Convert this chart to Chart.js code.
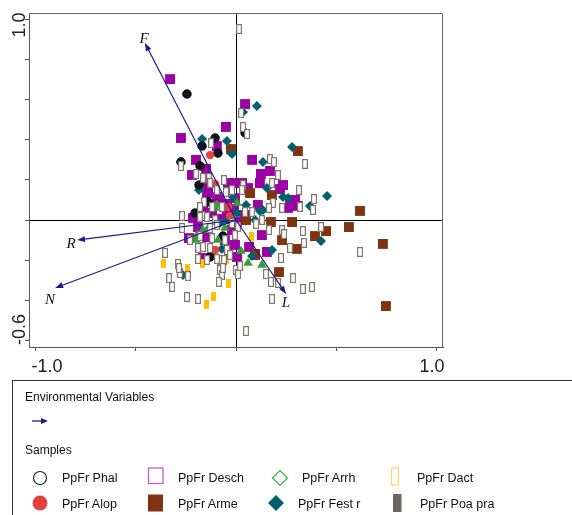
<!DOCTYPE html>
<html>
<head>
<meta charset="utf-8">
<script src="https://cdn.jsdelivr.net/npm/chart.js@4.4.0/dist/chart.umd.min.js"></script>
<style>
  html, body { margin: 0; padding: 0; background: #fff; }
  #wrap { position: relative; width: 572px; height: 515px; overflow: hidden; }
  #wrap canvas, #wrap svg { position: absolute; left: 0; top: 0; }
  svg text { font-family: "Liberation Sans", Arial, sans-serif; fill: #111; }
</style>
</head>
<body>
<div id="wrap">
  <canvas id="biplot" width="572" height="515"></canvas>
  <svg id="legend" width="572" height="515">
    <rect x="12.5" y="380.5" width="600" height="200" fill="none" stroke="#333" stroke-width="1"/>
    <text x="25" y="401" font-size="12">Environmental Variables</text>
    <line x1="32" y1="421" x2="43" y2="421" stroke="#1c1c8c" stroke-width="1.3"/>
    <polygon points="48,421 41,418 41,424" fill="#1c1c8c"/>
    <text x="25" y="454" font-size="12">Samples</text>

    <circle cx="40" cy="478" r="6.5" fill="#fff" stroke="#222" stroke-width="1.2"/>
    <text x="62" y="482" font-size="12.5">PpFr Phal</text>
    <rect x="148.5" y="468" width="14.5" height="15.5" fill="none" stroke="#c060d0" stroke-width="1.3"/>
    <text x="178" y="482" font-size="12.5">PpFr Desch</text>
    <polygon points="272.5,478 280,470.5 287.5,478 280,485.5" fill="none" stroke="#3cb043" stroke-width="1.2"/>
    <text x="302" y="482" font-size="12.5">PpFr Arrh</text>
    <rect x="391.5" y="468" width="7" height="17" fill="none" stroke="#ffd36a" stroke-width="1.2"/>
    <text x="417" y="482" font-size="12.5">PpFr Dact</text>

    <circle cx="40" cy="503" r="7.5" fill="#e04040"/>
    <text x="62" y="508" font-size="12.5">PpFr Alop</text>
    <rect x="148" y="494.5" width="15" height="17" fill="#7f3311"/>
    <text x="178" y="508" font-size="12.5">PpFr Arme</text>
    <polygon points="268,503 276,495 284,503 276,511" fill="#00606e"/>
    <text x="298" y="508" font-size="12.5">PpFr Fest r</text>
    <rect x="393" y="494" width="8.5" height="18" fill="#6e655e"/>
    <text x="420" y="508" font-size="12.5">PpFr Poa pra</text>
  </svg>
</div>
<script>
// Axis ticks
const xTicks = [-1.0, -0.5, 0, 0.5, 1.0];
const yTicks = [-0.6, -0.4, -0.2, 0, 0.2, 0.4, 0.6, 0.8, 1.0];
const xLabelValues = [-1.0, 1.0];
const yLabelValues = [1.0, -0.6];

// Environmental variable arrows (biplot scores)
const envNames = ['F', 'R', 'N', 'L'];
const envX = [-0.453, -0.791, -0.900, 0.249];
const envY = [0.881, -0.100, -0.338, -0.368];

// Sample scores per group [axis1, axis2]
const phal = [[-0.244,0.627],[0.045,0.433],[-0.104,0.408],[-0.169,0.368],[-0.090,0.333],[-0.274,0.289],
  [-0.179,0.269],[-0.184,0.174],[-0.139,0.090],[-0.204,0.035],[-0.129,-0.184],[-0.065,-0.080]];

const alop = [[-0.129,0.323],[-0.104,0.179],[-0.040,0.065],[-0.104,-0.149],[-0.030,0.020]];

const desch = [[-0.328,0.701],[0.045,0.577],[-0.050,0.463],[-0.274,0.408],[-0.095,0.368],[-0.199,0.299],
  [-0.149,0.254],[-0.219,0.224],[0.080,0.299],[0.124,0.229],[0.169,0.244],[0.119,0.184],[0.234,0.174],
  [0.219,0.154],[-0.139,0.159],[-0.040,0.184],[-0.005,0.184],[-0.144,0.134],[-0.095,0.114],[-0.005,0.109],
  [-0.085,0.100],[-0.045,0.080],[-0.164,0.065],[-0.045,0.050],[-0.010,0.055],[-0.214,0.010],[0.005,-0.010],
  [-0.189,-0.035],[-0.020,-0.050],[-0.234,-0.090],[-0.144,-0.085],[-0.005,-0.124],[-0.164,-0.189],
  [0.005,-0.184],[0.154,-0.159],[0.095,-0.174],[0.129,-0.075],[0.065,-0.134],[0.269,0.090],[0.294,0.100],
  [0.308,0.070],[0.259,0.060],[0.030,0.184],[-0.119,0.035],[-0.070,0.005],[0.040,0.025],[-0.055,-0.100],
  [0.060,0.159],[0.109,0.075]];

const arme = [[-0.025,0.353],[0.308,0.343],[0.070,0.134],[0.179,0.124],[0.617,0.045],[0.279,-0.010],
  [0.174,-0.010],[0.562,-0.035],[0.448,-0.055],[0.393,-0.080],[0.731,-0.119],[0.303,-0.144],[0.229,-0.100],
  [0.746,-0.428],[0.214,-0.259],[0.095,-0.169],[0.050,0.000]];

const fest = [[0.104,0.567],[0.035,0.537],[-0.169,0.403],[-0.045,0.393],[-0.020,0.328],[0.134,0.289],
  [0.279,0.363],[-0.184,0.149],[0.154,0.159],[0.234,0.114],[0.259,0.109],[0.453,0.119],[0.368,0.070],
  [0.423,-0.104],[0.179,-0.149],[0.080,-0.179],[-0.264,-0.274],[0.119,0.045],[0.095,0.000],[-0.080,-0.015],
  [-0.040,0.000],[-0.015,0.114],[-0.070,-0.144],[0.050,0.075],[0.005,0.035],[0.134,0.050]];

const arrh = [[0.005,0.085],[-0.095,0.075],[-0.104,0.060],[-0.164,-0.050],[-0.055,-0.040],[-0.199,-0.100],
  [-0.090,-0.100],[-0.194,-0.075],[0.060,-0.214],[0.129,-0.224],[0.025,-0.154],[-0.139,-0.040]];

const dact = [[-0.363,-0.214],[-0.239,-0.239],[-0.169,-0.214],[-0.045,-0.194],[-0.035,-0.318],
  [-0.114,-0.383],[-0.149,-0.418],[0.005,-0.030],[0.075,-0.080]];

const poa = [[0.015,0.950],[0.025,0.532],[0.035,0.463],[0.055,0.428],[-0.124,0.383],[-0.274,0.269],
  [-0.199,0.229],[-0.164,0.209],[-0.134,0.209],[-0.060,0.199],[0.169,0.303],[0.189,0.289],[0.209,0.224],
  [0.343,0.279],[0.179,0.184],[0.313,0.149],[0.388,0.104],[0.383,0.050],[0.318,0.065],[0.035,0.174],
  [0.030,0.149],[0.184,0.085],[-0.095,0.149],[-0.050,0.139],[-0.020,0.149],[-0.129,0.184],[-0.159,0.090],
  [-0.119,0.065],[-0.070,0.065],[-0.179,0.065],[-0.269,0.020],[-0.179,0.015],[-0.144,0.015],[-0.104,0.000],
  [-0.020,-0.015],[-0.269,-0.040],[-0.129,-0.040],[-0.095,-0.025],[0.010,-0.035],[-0.229,-0.100],
  [-0.179,-0.080],[-0.119,-0.090],[-0.055,-0.100],[-0.005,-0.075],[-0.189,-0.139],[-0.164,-0.134],
  [-0.129,-0.139],[-0.045,-0.149],[-0.144,-0.199],[-0.080,-0.199],[-0.030,-0.174],[-0.279,-0.264],
  [0.164,0.060],[0.229,0.060],[0.164,-0.050],[0.229,-0.050],[0.239,-0.070],[0.333,-0.055],[0.423,-0.035],
  [0.338,-0.114],[0.269,-0.139],[0.224,-0.189],[0.149,-0.269],[0.617,-0.159],[0.284,-0.289],[0.333,-0.343],
  [0.378,-0.333],[0.174,-0.308],[0.209,-0.313],[0.179,-0.393],[0.050,-0.552],[-0.353,-0.164],[-0.289,-0.219],
  [-0.284,-0.239],[-0.239,-0.279],[-0.333,-0.289],[-0.318,-0.333],[-0.244,-0.383],[-0.189,-0.393],
  [-0.080,-0.249],[-0.070,-0.274],[-0.085,-0.308],[-0.060,-0.199],[0.000,-0.249],[0.010,-0.269],
  [0.020,-0.229],[-0.095,-0.194],[-0.189,-0.194],[-0.065,-0.239],[0.045,0.040],[0.080,0.040],[0.100,-0.020],
  [0.129,0.000]];

const toPoints = arr => arr.map(p => ({ x: p[0], y: p[1] }));

// small bitmap marks for the narrow rectangles
function barMark(w, h, fill, stroke) {
  const c = document.createElement('canvas');
  c.width = w; c.height = h;
  const g = c.getContext('2d');
  g.fillStyle = fill;
  g.fillRect(0, 0, w, h);
  if (stroke) {
    g.strokeStyle = stroke;
    g.lineWidth = 1.2;
    g.strokeRect(0.6, 0.6, w - 1.2, h - 1.2);
  }
  return c;
}
const poaMark = barMark(6, 10, '#ffffff', '#7f746c');
const dactMark = barMark(5, 9, '#ffbe00', null);

const NAVY = '#1c1c8c';
const labelFont = '18px "Liberation Sans", Arial, sans-serif';
const xLabelShift = [12, -5];   // px offset of label centre from tick
const yLabelShift = [6, -11];
const envLabelShift = [[-1, 0], [-6, 8], [-5, 16], [0, 13]];

const biplotDecor = {
  id: 'biplotDecor',
  afterDatasetsDraw(chart) {
    const { ctx, scales: { x, y } } = chart;
    const ox = x.getPixelForValue(0), oy = y.getPixelForValue(0);
    ctx.save();
    ctx.strokeStyle = NAVY;
    ctx.fillStyle = NAVY;
    ctx.lineWidth = 1.2;
    envNames.forEach((name, i) => {
      const tx = x.getPixelForValue(envX[i]);
      const ty = y.getPixelForValue(envY[i]);
      const a = Math.atan2(ty - oy, tx - ox);
      const hl = 8, hw = 3;
      ctx.beginPath();
      ctx.moveTo(ox, oy);
      ctx.lineTo(tx - Math.cos(a) * hl * 0.7, ty - Math.sin(a) * hl * 0.7);
      ctx.stroke();
      ctx.beginPath();
      ctx.moveTo(tx, ty);
      ctx.lineTo(tx - Math.cos(a) * hl - Math.sin(a) * hw, ty - Math.sin(a) * hl + Math.cos(a) * hw);
      ctx.lineTo(tx - Math.cos(a) * hl + Math.sin(a) * hw, ty - Math.sin(a) * hl - Math.cos(a) * hw);
      ctx.closePath();
      ctx.fill();
    });
    ctx.fillStyle = '#111';
    ctx.font = 'italic 15px "Liberation Serif", "Times New Roman", serif';
    ctx.textAlign = 'center';
    ctx.textBaseline = 'alphabetic';
    envNames.forEach((name, i) => {
      const tx = x.getPixelForValue(envX[i]);
      const ty = y.getPixelForValue(envY[i]);
      ctx.fillText(name, tx + envLabelShift[i][0], ty + envLabelShift[i][1]);
    });
    ctx.restore();
  },
  afterDraw(chart) {
    const { ctx, chartArea: a, scales: { x, y } } = chart;
    ctx.save();
    // top and right frame
    ctx.strokeStyle = '#666';
    ctx.lineWidth = 1;
    ctx.beginPath();
    ctx.moveTo(a.left, a.top + 0.5);
    ctx.lineTo(a.right - 0.5, a.top + 0.5);
    ctx.lineTo(a.right - 0.5, a.bottom);
    ctx.stroke();
    // axis labels
    ctx.fillStyle = '#222';
    ctx.font = labelFont;
    ctx.textAlign = 'center';
    ctx.textBaseline = 'alphabetic';
    xLabelValues.forEach((v, i) => {
      ctx.fillText(v.toFixed(1), x.getPixelForValue(v) + xLabelShift[i], a.bottom + 25);
    });
    yLabelValues.forEach((v, i) => {
      ctx.save();
      ctx.translate(a.left - 4, y.getPixelForValue(v) + yLabelShift[i]);
      ctx.rotate(-Math.PI / 2);
      ctx.fillText(v.toFixed(1), 0, 0);
      ctx.restore();
    });
    ctx.restore();
  }
};

const gridOpts = {
  color: c => (c.tick && c.tick.value === 0 ? '#000' : 'rgba(0,0,0,0)'),
  tickColor: '#555',
  tickLength: 4,
  lineWidth: 1
};

new Chart(document.getElementById('biplot'), {
  type: 'scatter',
  data: {
    datasets: [
      { label: 'PpFr Poa pra', data: toPoints(poa), pointStyle: poaMark, pointRadius: 4 },
      { label: 'PpFr Dact', data: toPoints(dact), pointStyle: dactMark, pointRadius: 4 },
      { label: 'PpFr Arrh', data: toPoints(arrh), pointStyle: 'triangle', pointRadius: 5.5,
        backgroundColor: '#31a331', borderColor: '#31a331', borderWidth: 0 },
      { label: 'PpFr Alop', data: toPoints(alop), pointStyle: 'circle', pointRadius: 4.2,
        backgroundColor: '#e5413f', borderColor: '#e5413f', borderWidth: 0 },
      { label: 'PpFr Phal', data: toPoints(phal), pointStyle: 'circle', pointRadius: 4.3,
        backgroundColor: '#111520', borderColor: '#000', borderWidth: 0.8 },
      { label: 'PpFr Fest r', data: toPoints(fest), pointStyle: 'rectRot', pointRadius: 5,
        backgroundColor: '#00606e', borderColor: '#00606e', borderWidth: 0 },
      { label: 'PpFr Arme', data: toPoints(arme), pointStyle: 'rect', pointRadius: 7,
        backgroundColor: '#7f3311', borderColor: '#7f3311', borderWidth: 0 },
      { label: 'PpFr Desch', data: toPoints(desch), pointStyle: 'rect', pointRadius: 7,
        backgroundColor: '#9b00a6', borderColor: '#9b00a6', borderWidth: 0 }
    ]
  },
  options: {
    responsive: false,
    devicePixelRatio: 1,
    animation: false,
    events: [],
    layout: { padding: { top: 13, right: 129, left: 0, bottom: 0 } },
    plugins: { legend: { display: false }, tooltip: { enabled: false } },
    scales: {
      x: {
        type: 'linear',
        min: -1.03,
        max: 1.03,
        afterBuildTicks: s => { s.ticks = xTicks.map(v => ({ value: v })); },
        afterFit: s => { s.height = 168; },
        ticks: { display: false },
        grid: gridOpts,
        border: { display: true, color: '#555', width: 1 }
      },
      y: {
        type: 'linear',
        min: -0.6318,
        max: 1.0299,
        afterBuildTicks: s => { s.ticks = yTicks.map(v => ({ value: v })); },
        afterFit: s => { s.width = 29; },
        ticks: { display: false },
        grid: gridOpts,
        border: { display: true, color: '#555', width: 1 }
      }
    }
  },
  plugins: [biplotDecor]
});
</script>
</body>
</html>
